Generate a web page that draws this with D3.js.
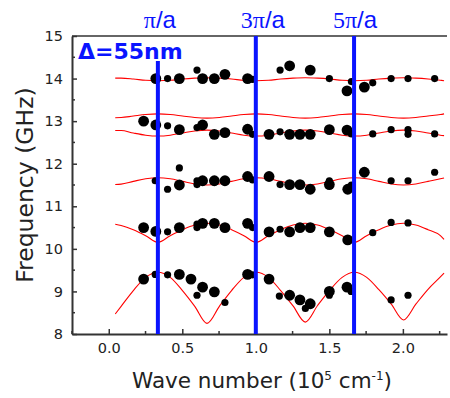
<!DOCTYPE html>
<html>
<head>
<meta charset="utf-8">
<script src="https://cdn.jsdelivr.net/npm/d3@7"></script>
<style>
  body { margin: 0; background: #fff; }
  svg text { font-family: "DejaVu Sans", sans-serif; }
</style>
</head>
<body>
<div id="chart"></div>
<script>
// wave number grid used for the calculated bands (10^5 cm^-1)
const bandX = [0.044, 0.084, 0.167, 0.251, 0.334, 0.418, 0.501, 0.585, 0.668, 0.752,
  0.835, 0.919, 1.002, 1.086, 1.169, 1.253, 1.336, 1.42, 1.503, 1.587, 1.67, 1.754,
  1.837, 1.921, 2.004, 2.088, 2.171, 2.255, 2.28];

// calculated bands (GHz)
const band1 = [8.47, 8.65, 9.02, 9.33, 9.45, 9.33, 9.02, 8.65, 8.25, 8.65, 9.02, 9.33, 9.45, 9.33,
  9.02, 8.66, 8.28, 8.67, 9.03, 9.33, 9.45, 9.33, 9.04, 8.70, 8.33, 8.70, 9.05, 9.34, 9.43];
const band2 = [10.58, 10.55, 10.45, 10.31, 10.15, 10.31, 10.45, 10.56, 10.6, 10.56, 10.45, 10.31,
  10.15, 10.31, 10.45, 10.56, 10.6, 10.56, 10.45, 10.31, 10.15, 10.31, 10.45, 10.56, 10.6, 10.56,
  10.45, 10.31, 10.22];
const band3 = [11.51, 11.52, 11.585, 11.645, 11.67, 11.645, 11.585, 11.525, 11.5, 11.525, 11.585,
  11.645, 11.67, 11.645, 11.585, 11.525, 11.5, 11.525, 11.585, 11.645, 11.67, 11.645, 11.585,
  11.525, 11.5, 11.525, 11.585, 11.645, 11.665];
const band4 = [12.78, 12.78, 12.72, 12.67, 12.65, 12.67, 12.72, 12.77, 12.79, 12.77, 12.72, 12.67,
  12.65, 12.67, 12.72, 12.77, 12.79, 12.77, 12.72, 12.67, 12.65, 12.67, 12.72, 12.77, 12.79, 12.77,
  12.72, 12.67, 12.66];
const band5 = [13.08, 13.085, 13.12, 13.155, 13.17, 13.155, 13.12, 13.085, 13.07, 13.085, 13.12,
  13.155, 13.17, 13.155, 13.12, 13.085, 13.07, 13.085, 13.12, 13.155, 13.17, 13.155, 13.12, 13.085,
  13.07, 13.085, 13.12, 13.155, 13.17];
const band6 = [14.01, 14.01, 13.99, 13.96, 13.95, 13.96, 13.99, 14.01, 14.02, 14.01, 13.99, 13.96,
  13.95, 13.96, 13.99, 14.01, 14.02, 14.01, 13.99, 13.96, 13.95, 13.96, 13.99, 14.01, 14.02, 14.01,
  13.99, 13.96, 13.95];

// measured modes: wave number, frequency, marker class (L = large, S = small)
const dotK = [
  0.237, 0.316, 0.40, 0.48, 0.559, 0.60, 0.638, 0.718, 0.79, 0.944, 0.978, 1.09, 1.16, 1.23, 1.30,
  1.337, 1.37, 1.50, 1.50, 1.62, 1.648, 1.92, 2.035,
  0.237, 0.32, 0.40, 0.48, 0.60, 0.60, 0.638, 0.718, 0.79, 0.944, 0.978, 1.09, 1.165, 1.23, 1.30,
  1.37, 1.50, 1.625, 1.795, 1.92, 2.035,
  0.316, 0.40, 0.48, 0.48, 0.60, 0.60, 0.638, 0.718, 0.79, 0.944, 0.978, 1.09, 1.165, 1.23, 1.30,
  1.37, 1.50, 1.50, 1.625, 1.65, 1.738, 1.92, 2.035, 2.216,
  0.237, 0.32, 0.40, 0.48, 0.60, 0.638, 0.718, 0.79, 0.944, 0.978, 1.09, 1.165, 1.23, 1.30, 1.37,
  1.50, 1.62, 1.65, 1.795, 1.92, 2.035, 2.035, 2.216,
  0.32, 0.40, 0.48, 0.60, 0.638, 0.718, 0.79, 0.944, 0.978, 1.165, 1.23, 1.37, 1.50, 1.62, 1.65,
  1.738, 1.795, 1.92, 2.035, 2.216
];
const dotGHz = [
  9.29, 9.40, 9.39, 9.40, 9.29, 8.91, 9.10, 8.99, 8.74, 9.40, 9.39, 9.29, 8.89, 8.91, 8.80,
  8.60, 8.71, 9.0, 8.91, 9.10, 9.0, 8.80, 8.91,
  10.50, 10.41, 10.40, 10.50, 10.58, 10.50, 10.60, 10.60, 10.50, 10.60, 10.50, 10.40, 10.46, 10.40,
  10.50, 10.50, 10.40, 10.21, 10.38, 10.62, 10.61,
  11.60, 11.40, 11.90, 11.50, 11.60, 11.51, 11.60, 11.60, 11.60, 11.70, 11.62, 11.70, 11.51, 11.51,
  11.51, 11.40, 11.60, 11.51, 11.40, 11.50, 11.80, 11.60, 11.60, 11.80,
  13.0, 12.91, 12.89, 12.80, 12.85, 12.91, 12.69, 12.73, 12.81, 12.69, 12.69, 12.75, 12.69, 12.69,
  12.69, 12.80, 12.79, 12.70, 12.70, 12.80, 12.80, 12.69, 12.70,
  14.0, 14.0, 14.0, 14.2, 14.0, 14.0, 14.1, 14.0, 13.98, 14.2, 14.3, 14.2, 14.0, 13.71, 13.93,
  13.80, 13.90, 14.0, 14.0, 14.0
];
const dotClass = [
  "L", "S", "S", "L", "L", "S", "L", "L", "S", "L", "S", "L", "S", "L", "L", "S", "L", "L", "S", "L", "S", "S", "S",
  "L", "L", "S", "L", "S", "S", "L", "L", "L", "L", "S", "L", "S", "L", "L", "L", "L", "L", "S", "S", "S",
  "S", "S", "S", "L", "S", "S", "L", "L", "L", "L", "S", "L", "S", "L", "L", "L", "S", "L", "L", "S", "L", "S", "S", "S",
  "L", "L", "S", "L", "S", "L", "L", "L", "L", "S", "L", "S", "L", "L", "L", "L", "L", "S", "S", "S", "S", "S", "S",
  "L", "S", "L", "S", "L", "L", "L", "L", "S", "S", "L", "L", "S", "L", "S", "L", "S", "S", "S", "S"
];

// zone edges (n pi / a) and axis ticks
const edgeK = [0.334, 1.0, 1.668];
const edgeLabel = ["", "3", "5"];
const xTicks = [0, 0.5, 1.0, 1.5, 2.0];
const xMinor = [-0.25, 0.25, 0.75, 1.25, 1.75, 2.25];
const yTicks = [8, 9, 10, 11, 12, 13, 14, 15];
const yMinor = [8.5, 9.5, 10.5, 11.5, 12.5, 13.5, 14.5];

const width = 450, height = 398;
const margin = { top: 36, right: 3, bottom: 64, left: 72 };

const svg = d3.select("#chart").append("svg")
    .attr("width", width)
    .attr("height", height);

const x = d3.scaleLinear().domain([-0.25, 2.3]).range([margin.left, width - margin.right]);
const y = d3.scaleLinear().domain([8, 15]).range([height - margin.bottom, margin.top]);

// red calculated bands
const line = d3.line()
    .x((d, i) => x(bandX[i]))
    .y(d => y(d))
    .curve(d3.curveMonotoneX);

svg.append("g").selectAll("path")
    .data([band1, band2, band3, band4, band5, band6])
    .enter().append("path")
    .attr("d", line)
    .attr("fill", "none")
    .attr("stroke", "#ff0000")
    .attr("stroke-width", 1.1);

// measured points
svg.append("g").selectAll("circle")
    .data(dotK)
    .enter().append("circle")
    .attr("cx", d => x(d))
    .attr("cy", (d, i) => y(dotGHz[i]))
    .attr("r", (d, i) => dotClass[i] === "L" ? 5.4 : 3.6)
    .attr("fill", "#000");

// axes
const axisColor = "#333";
const xAxis = svg.append("g")
    .attr("transform", `translate(0, ${y(8)})`)
    .call(d3.axisBottom(x).tickValues(xTicks).tickSizeInner(-5).tickSizeOuter(0)
        .tickPadding(9).tickFormat(d3.format(".1f")));
xAxis.append("g").selectAll("line")
    .data(xMinor).enter().append("line")
    .attr("x1", d => x(d)).attr("x2", d => x(d))
    .attr("y1", 0).attr("y2", -3);

const yAxis = svg.append("g")
    .attr("transform", `translate(${x(-0.25)}, 0)`)
    .call(d3.axisLeft(y).tickValues(yTicks).tickSizeInner(-5).tickSizeOuter(0)
        .tickPadding(9).tickFormat(d3.format("d")));
yAxis.append("g").selectAll("line")
    .data(yMinor).enter().append("line")
    .attr("x1", 0).attr("x2", 3)
    .attr("y1", d => y(d)).attr("y2", d => y(d));

[xAxis, yAxis].forEach(g => {
  g.select(".domain").attr("stroke", axisColor).attr("stroke-width", 2);
  g.selectAll("line").attr("stroke", axisColor).attr("stroke-width", 1.5);
  g.selectAll("text")
      .attr("fill", "#222")
      .style("font-family", "'DejaVu Sans', sans-serif")
      .style("font-size", "14.5px");
});

// top frame
svg.append("line")
    .attr("x1", x(-0.25)).attr("x2", x(2.3))
    .attr("y1", y(15)).attr("y2", y(15))
    .attr("stroke", axisColor).attr("stroke-width", 1.5);

// zone edge lines
svg.append("g").selectAll("line")
    .data(edgeK).enter().append("line")
    .attr("x1", d => x(d)).attr("x2", d => x(d))
    .attr("y1", (d, i) => i === 0 ? 61 : y(15))
    .attr("y2", y(8))
    .attr("stroke", "#0a14ff")
    .attr("stroke-width", 4);

const edgeText = svg.append("g").selectAll("text")
    .data(edgeK).enter().append("text")
    .attr("x", (d, i) => x(d) + [2, 7, 1][i])
    .attr("y", 28)
    .attr("text-anchor", "middle")
    .attr("fill", "#0a14ff")
    .style("font-size", "24px");
edgeText.append("tspan")
    .style("font-family", "'Liberation Serif', serif")
    .text((d, i) => edgeLabel[i] + "\u03c0");
edgeText.append("tspan")
    .style("font-family", "'Liberation Sans', sans-serif")
    .text("/a");

svg.append("text")
    .attr("x", 78)
    .attr("y", 59)
    .attr("fill", "#0a14ff")
    .style("font-weight", "bold")
    .style("font-size", "22px")
    .text("\u0394=55nm");

// axis titles
const xTitle = svg.append("text")
    .attr("x", 262)
    .attr("y", 388)
    .attr("text-anchor", "middle")
    .attr("fill", "#222")
    .style("font-size", "21.5px");
xTitle.append("tspan").text("Wave number (10");
xTitle.append("tspan").attr("dy", -8).style("font-size", "12px").text("5");
xTitle.append("tspan").attr("dy", 8).text(" cm");
xTitle.append("tspan").attr("dy", -8).style("font-size", "12px").text("-1");
xTitle.append("tspan").attr("dy", 8).text(")");

svg.append("text")
    .attr("transform", "translate(33, 185) rotate(-90)")
    .attr("text-anchor", "middle")
    .attr("fill", "#222")
    .style("font-size", "23.5px")
    .text("Frequency (GHz)");
</script>
</body>
</html>
